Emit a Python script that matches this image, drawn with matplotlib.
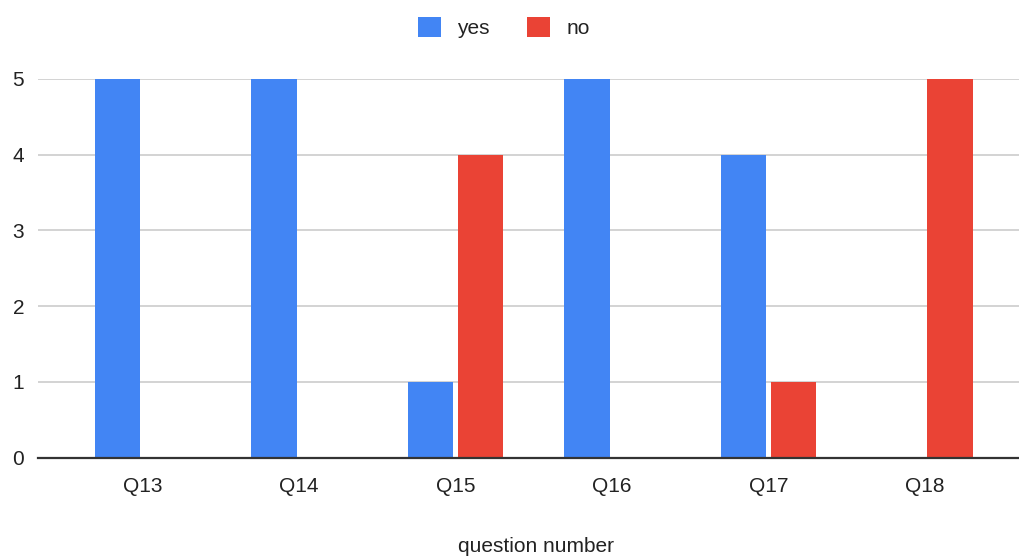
import matplotlib
matplotlib.use("Agg")
import matplotlib.pyplot as plt
import numpy as np
from matplotlib.patches import Patch

categories = ["Q13", "Q14", "Q15", "Q16", "Q17", "Q18"]
yes_vals = [5, 5, 1, 5, 4, 0]
no_vals = [0, 0, 4, 0, 1, 5]
series_names = ["yes", "no"]
colors = ["#4285F4", "#EA4335"]
y_ticks = [0, 1, 2, 3, 4, 5]

plt.rcParams['font.family'] = ['Liberation Sans', 'DejaVu Sans']

W, H = 1019, 559
FS = 15
fig = plt.figure(figsize=(W / 100, H / 100), dpi=100)
ax = fig.add_axes([38 / W, (H - 457.7) / H, (W - 38) / W, (457.7 - 79) / H])

x = np.arange(len(categories))
bw = 0.29
off = 0.16
ax.bar(x - off, yes_vals, width=bw, color=colors[0], zorder=3)
ax.bar(x + off, no_vals, width=bw, color=colors[1], zorder=3)

ax.set_xlim(-0.668, 5.6)
ax.set_ylim(0, 5)
ax.set_yticks(y_ticks)
ax.set_xticks(x)
ax.set_xticklabels(categories)
ax.yaxis.grid(True, color="#cccccc", linewidth=1.2, zorder=0)
ax.set_axisbelow(True)
for s in ["top", "right", "left"]:
    ax.spines[s].set_visible(False)
ax.spines["bottom"].set_color("#333333")
ax.spines["bottom"].set_linewidth(1.6)
ax.spines["bottom"].set_zorder(4)
ax.tick_params(axis="both", length=0, labelsize=FS, colors="#222222")
ax.tick_params(axis="x", pad=14)
ax.tick_params(axis="y", pad=10)

fig.text(536 / W, 1 - 547 / H, "question number", ha="center", va="center",
         fontsize=FS, color="#222222")

handles = [Patch(facecolor=colors[0], edgecolor="none"),
           Patch(facecolor=colors[1], edgecolor="none")]
fig.legend(handles, series_names, loc="center", bbox_to_anchor=(504 / W, 1 - 27.5 / H),
           ncol=2, frameon=False, fontsize=FS, handlelength=1.1, handleheight=1.1,
           handletextpad=0.8, columnspacing=1.8, labelcolor="#222222")

fig.savefig("out.png", dpi=100)
